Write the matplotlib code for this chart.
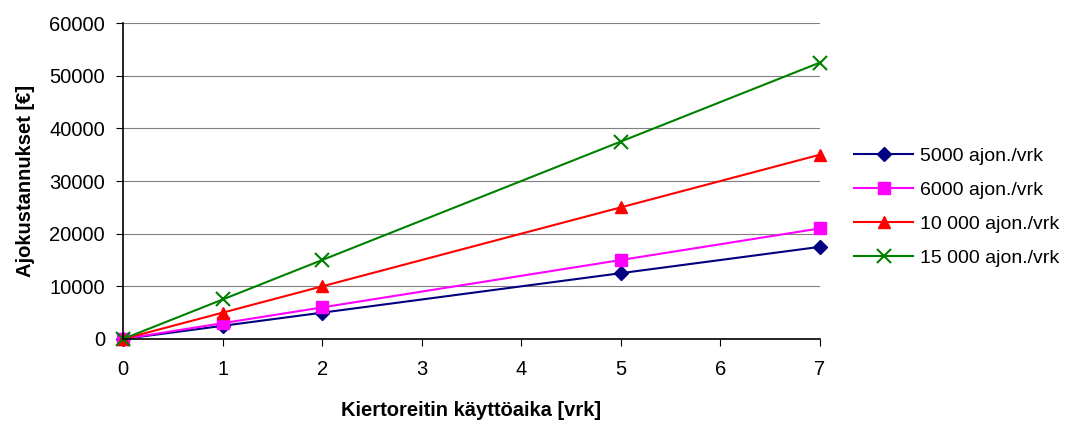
import matplotlib
matplotlib.use('Agg')
import matplotlib.pyplot as plt

plt.rcParams['font.family'] = ['Liberation Sans', 'DejaVu Sans']

days = [0, 1, 2, 5, 7]
cost_5000 = [0, 2500, 5000, 12500, 17500]
cost_6000 = [0, 3000, 6000, 15000, 21000]
cost_10000 = [0, 5000, 10000, 25000, 35000]
cost_15000 = [0, 7500, 15000, 37500, 52500]
labels = ['5000 ajon./vrk', '6000 ajon./vrk', '10 000 ajon./vrk', '15 000 ajon./vrk']

fig = plt.figure(figsize=(10.84, 4.23), dpi=100)
ax = fig.add_axes([0.1135, 0.1986, 0.643, 0.747])

ax.plot(days, cost_5000, color='#000080', marker='D', markersize=7, lw=1.5, label=labels[0])
ax.plot(days, cost_6000, color='#FF00FF', marker='s', markersize=8, lw=1.5, label=labels[1])
ax.plot(days, cost_10000, color='#FF0000', marker='^', markersize=9, lw=1.5, label=labels[2])
ax.plot(days, cost_15000, color='#008000', marker='x', markersize=10, mew=1.5, lw=1.5, label=labels[3])

ax.set_xlim(0, 7)
ax.set_ylim(0, 60000)
ax.set_xticks(range(0, 8))
ax.set_yticks(range(0, 60001, 10000))
ax.yaxis.grid(True, color='#808080', lw=0.8)
ax.set_axisbelow(True)
ax.tick_params(labelsize=14.5, direction='out', length=5)
ax.tick_params(axis='y', pad=8)
ax.tick_params(axis='x', pad=10)
for s in ['top', 'right']:
    ax.spines[s].set_visible(False)
ax.spines['left'].set_linewidth(1.2)
ax.spines['bottom'].set_linewidth(1.2)
ax.set_xlabel('Kiertoreitin käyttöaika [vrk]', fontsize=14.5, fontweight='bold', labelpad=16)
ax.set_ylabel('Ajokustannukset [€]', fontsize=14.5, fontweight='bold', labelpad=10)
for l in ax.lines:
    l.set_clip_on(False)

fig.legend(loc='center left', bbox_to_anchor=(0.772, 0.51), frameon=False,
           fontsize=14, handlelength=3.0, labelspacing=0.85, handletextpad=0.4)

fig.savefig('out.png', dpi=100)
